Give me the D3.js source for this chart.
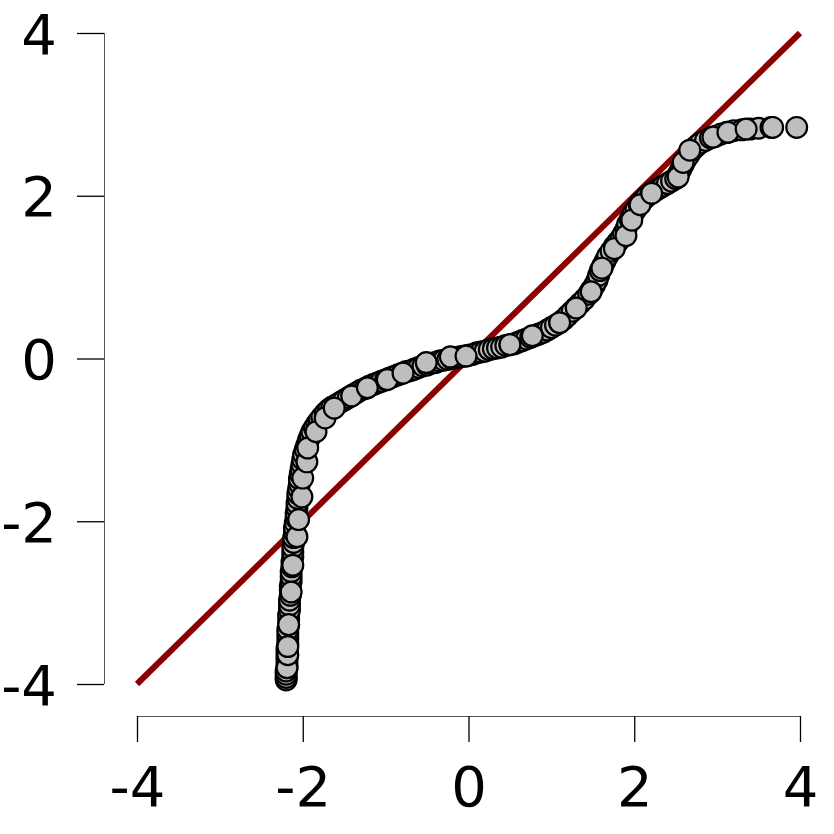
<!DOCTYPE html>
<html><head><meta charset="utf-8">
<script src="https://cdn.jsdelivr.net/npm/d3@7"></script>
<style>html,body{margin:0;padding:0;background:#fff;}svg{display:block;}</style>
</head><body>
<script>
const xTicks = [-4, -2, 0, 2, 4];
const yTicks = [-4, -2, 0, 2, 4];
const refLine = [[-4, -4], [4, 4]];
const sampleX = [
-2.20,-2.20,-2.20,-2.20,-2.19,-2.19,-2.19,-2.19,-2.19,-2.19,-2.18,-2.18,-2.18,-2.18,-2.17,-2.17,-2.17,-2.16,-2.16,-2.16,
-2.15,-2.15,-2.15,-2.14,-2.14,-2.14,-2.13,-2.13,-2.12,-2.12,-2.12,-2.11,-2.11,-2.10,-2.10,-2.09,-2.08,-2.08,-2.07,-2.07,
-2.06,-2.06,-2.05,-2.04,-2.04,-2.03,-2.02,-2.01,-2.00,-1.99,-1.97,-1.95,-1.93,-1.91,-1.89,-1.86,-1.83,-1.80,-1.77,-1.73,
-1.69,-1.65,-1.60,-1.55,-1.50,-1.45,-1.40,-1.35,-1.30,-1.25,-1.20,-1.15,-1.10,-1.05,-1.00,-0.95,-0.90,-0.85,-0.80,-0.75,
-0.70,-0.65,-0.60,-0.55,-0.50,-0.45,-0.40,-0.35,-0.30,-0.25,-0.20,-0.15,-0.10,-0.05,0.00,0.05,0.10,0.15,0.20,0.25,
0.30,0.35,0.40,0.45,0.50,0.55,0.60,0.65,0.70,0.75,0.80,0.85,0.90,0.95,1.00,1.05,1.10,1.15,1.20,1.25,
1.30,1.35,1.40,1.45,1.48,1.52,1.55,1.57,1.59,1.62,1.65,1.68,1.72,1.76,1.80,1.84,1.87,1.90,1.92,1.95,
1.98,2.02,2.06,2.10,2.15,2.20,2.25,2.30,2.35,2.40,2.45,2.50,2.53,2.56,2.59,2.62,2.66,2.70,2.75,2.80,
2.86,2.92,2.98,3.05,3.12,3.20,3.30,3.40,3.50,3.65,3.96
];
const sampleY = [
-3.95,-3.92,-3.88,-3.84,-3.80,-3.75,-3.70,-3.66,-3.61,-3.56,-3.50,-3.44,-3.38,-3.33,-3.27,-3.21,-3.15,-3.09,-3.03,-2.97,
-2.91,-2.85,-2.80,-2.74,-2.68,-2.62,-2.56,-2.50,-2.44,-2.38,-2.32,-2.26,-2.20,-2.14,-2.08,-2.02,-1.96,-1.90,-1.84,-1.78,
-1.72,-1.66,-1.60,-1.54,-1.48,-1.42,-1.36,-1.30,-1.24,-1.18,-1.12,-1.06,-1.00,-0.95,-0.90,-0.85,-0.80,-0.76,-0.72,-0.67,
-0.63,-0.60,-0.57,-0.54,-0.51,-0.48,-0.45,-0.42,-0.39,-0.37,-0.34,-0.32,-0.30,-0.28,-0.26,-0.24,-0.22,-0.20,-0.18,-0.16,
-0.15,-0.13,-0.11,-0.09,-0.08,-0.06,-0.05,-0.03,-0.02,-0.01,0.00,0.01,0.02,0.03,0.04,0.05,0.07,0.08,0.09,0.11,
0.12,0.13,0.14,0.16,0.17,0.18,0.20,0.22,0.24,0.26,0.28,0.30,0.32,0.35,0.38,0.41,0.44,0.48,0.53,0.58,
0.63,0.68,0.73,0.79,0.84,0.90,0.96,1.02,1.08,1.14,1.20,1.26,1.32,1.38,1.43,1.48,1.53,1.59,1.65,1.71,
1.77,1.83,1.89,1.94,1.99,2.03,2.06,2.09,2.12,2.15,2.18,2.21,2.26,2.32,2.38,2.44,2.50,2.56,2.61,2.65,
2.68,2.71,2.73,2.76,2.78,2.80,2.81,2.82,2.83,2.84,2.84
];
// points that lie on top of the pile (drawn last)
const topX = [-2.19,-2.18,-2.18,-2.17,-2.14,-2.12,-2.07,-2.05,-2.01,-2.00,-1.95,-1.94,-1.84,-1.73,-1.62,-1.41,-1.22,-0.98,-0.79,-0.51,
-0.22,-0.03,0.50,0.77,1.10,1.30,1.48,1.61,1.76,1.90,1.97,2.07,2.21,2.53,2.59,2.67,2.95,3.13,3.35,3.67];
const topY = [-3.80,-3.64,-3.54,-3.27,-2.87,-2.54,-2.19,-1.98,-1.70,-1.47,-1.27,-1.10,-0.90,-0.73,-0.61,-0.46,-0.36,-0.26,-0.18,-0.05,
0.02,0.03,0.17,0.28,0.44,0.62,0.82,1.11,1.35,1.51,1.70,1.89,2.03,2.23,2.41,2.56,2.72,2.78,2.82,2.84];

const W = 834, H = 834;
const svg = d3.select("body").append("svg").attr("width", W).attr("height", H);
const x = d3.scaleLinear().domain([-4, 4]).range([137, 800]);
const y = d3.scaleLinear().domain([-4, 4]).range([684, 33]);
const font = "DejaVu Sans, sans-serif";

// reference line
svg.append("line")
  .attr("x1", x(refLine[0][0])).attr("y1", y(refLine[0][1]))
  .attr("x2", x(refLine[1][0])).attr("y2", y(refLine[1][1]))
  .attr("stroke", "#8B0000").attr("stroke-width", 6);

// points
const pts = sampleX.map((v, i) => [v, sampleY[i]]).concat(topX.map((v, i) => [v, topY[i]]));
svg.append("g").selectAll("circle").data(pts).join("circle")
  .attr("cx", d => x(d[0])).attr("cy", d => y(d[1]))
  .attr("r", 10.4)
  .attr("fill", "#bebebe").attr("stroke", "#000").attr("stroke-width", 2.2);

// y axis
const yAxis = d3.axisLeft(y).tickValues(yTicks).tickSize(27).tickPadding(20)
  .tickFormat(d => String(d));
const gy = svg.append("g").attr("transform", "translate(104,0)").call(yAxis);
gy.select(".domain").attr("d", `M0.5,${y(4)}V${y(-4)}`).attr("stroke", "#555").attr("stroke-width", 1);
gy.selectAll(".tick line").attr("stroke", "#000").attr("stroke-width", 1.3);
gy.selectAll(".tick text").attr("font-family", font).attr("font-size", 56).attr("fill", "#000")
  .attr("dy", "0.36em");

// x axis
const xAxis = d3.axisBottom(x).tickValues(xTicks).tickSize(26).tickPadding(24)
  .tickFormat(d => String(d));
const gx = svg.append("g").attr("transform", "translate(0,716)").call(xAxis);
gx.select(".domain").attr("d", `M${x(-4)},0.5H${x(4)}`).attr("stroke", "#555").attr("stroke-width", 1);
gx.selectAll(".tick line").attr("stroke", "#000").attr("stroke-width", 1.3);
gx.selectAll(".tick text").attr("font-family", font).attr("font-size", 56).attr("fill", "#000")
  .attr("dy", "0.71em");
</script>
</body></html>
